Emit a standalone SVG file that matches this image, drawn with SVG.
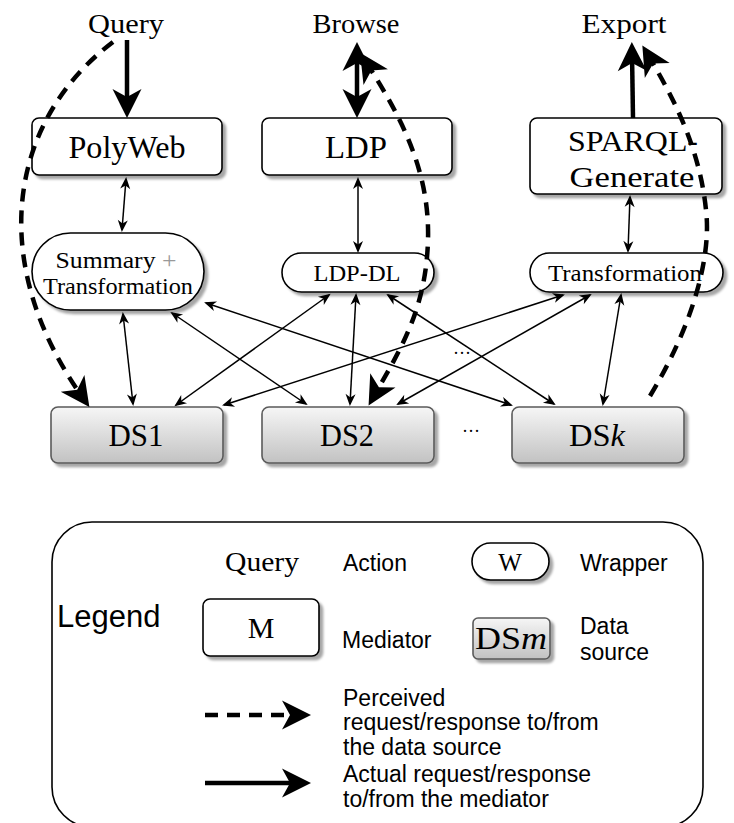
<svg xmlns="http://www.w3.org/2000/svg" width="734" height="823" viewBox="0 0 734 823">
<style>
.sr{font-family:"Liberation Serif","Times New Roman",serif;fill:#000;text-anchor:middle}
.ss{font-family:"Liberation Sans",Arial,sans-serif;fill:#000;font-size:23px}
.lg{font-size:31px}
.med{fill:#fff;stroke:#000;stroke-width:1.6;filter:url(#sh)}
.ds{fill:url(#dsg);stroke:#5a5a5a;stroke-width:1.6;filter:url(#sh)}
.thin{fill:none;stroke:#000;stroke-width:1.5;marker-start:url(#ah);marker-end:url(#ah)}
.thick{fill:none;stroke:#000;stroke-width:4.5}
.dash{fill:none;stroke:#000;stroke-width:4.5;stroke-dasharray:13 9}
</style>
<defs>
<linearGradient id="dsg" x1="0" y1="0" x2="0" y2="1">
<stop offset="0" stop-color="#f6f6f6"/>
<stop offset="1" stop-color="#c2c2c2"/>
</linearGradient>
<filter id="sh" x="-10%" y="-10%" width="130%" height="140%">
<feDropShadow dx="3.5" dy="3.5" stdDeviation="1.2" flood-color="#000" flood-opacity="0.35"/>
</filter>
<marker id="ah" markerUnits="userSpaceOnUse" viewBox="-12 -7 16 14" markerWidth="16" markerHeight="14" refX="0" refY="0" orient="auto-start-reverse">
<path d="M2,0 L-10,-5 L-6.5,0 L-10,5 z" fill="#000"/>
</marker>
<marker id="AH" markerUnits="userSpaceOnUse" viewBox="-22 -16 36 32" markerWidth="36" markerHeight="32" refX="0" refY="0" orient="auto-start-reverse">
<path d="M11,0 L-18,-14.5 L-10,0 L-18,14.5 z" fill="#000"/>
</marker>
</defs>

<g id="label-query"><text class="sr" x="126" y="33" font-size="28" textLength="76" lengthAdjust="spacingAndGlyphs">Query</text></g>
<g id="label-browse"><text class="sr" x="356" y="33" font-size="28" textLength="87" lengthAdjust="spacingAndGlyphs">Browse</text></g>
<g id="label-export"><text class="sr" x="624" y="33" font-size="28" textLength="85" lengthAdjust="spacingAndGlyphs">Export</text></g>

<g id="polyweb"><rect class="med" x="32" y="118" width="190" height="57" rx="7"/><text class="sr" x="127" y="158" font-size="32" textLength="117" lengthAdjust="spacingAndGlyphs">PolyWeb</text></g>
<g id="ldp"><rect class="med" x="262" y="118" width="190" height="57" rx="7"/><text class="sr" x="356" y="158" font-size="32" textLength="62" lengthAdjust="spacingAndGlyphs">LDP</text></g>
<g id="sparql-generate"><rect class="med" x="530" y="118" width="192" height="76" rx="7"/><text class="sr" x="633" y="151" font-size="30" textLength="130" lengthAdjust="spacingAndGlyphs">SPARQL-</text><text class="sr" x="632" y="187" font-size="30" textLength="125" lengthAdjust="spacingAndGlyphs">Generate</text></g>

<g id="summary-transformation"><rect class="med" x="32" y="233" width="172" height="77" rx="38.5"/><text class="sr" x="116" y="268" font-size="24" textLength="121" lengthAdjust="spacingAndGlyphs">Summary <tspan fill="#999">+</tspan></text><text class="sr" x="118" y="294" font-size="24" textLength="150" lengthAdjust="spacingAndGlyphs">Transformation</text></g>
<g id="ldp-dl"><rect class="med" x="282" y="253" width="152" height="39" rx="19.5"/><text class="sr" x="357" y="281" font-size="24" textLength="87" lengthAdjust="spacingAndGlyphs">LDP-DL</text></g>
<g id="transformation"><rect class="med" x="530" y="253" width="193" height="39" rx="19.5"/><text class="sr" x="625" y="281" font-size="24" textLength="154" lengthAdjust="spacingAndGlyphs">Transformation</text></g>

<g id="ds1"><rect class="ds" x="51" y="407" width="172" height="56" rx="7"/><text class="sr" x="136" y="446" font-size="32" textLength="55" lengthAdjust="spacingAndGlyphs">DS1</text></g>
<g id="ds2"><rect class="ds" x="262" y="407" width="172" height="56" rx="7"/><text class="sr" x="347" y="446" font-size="32" textLength="54" lengthAdjust="spacingAndGlyphs">DS2</text></g>
<g id="dsk"><rect class="ds" x="512" y="407" width="172" height="56" rx="7"/><text class="sr" x="597" y="446" font-size="32" textLength="56" lengthAdjust="spacingAndGlyphs">DS<tspan font-style="italic">k</tspan></text></g>
<g id="dots"><text class="sr" x="471" y="437" font-size="18">···</text><text class="sr" x="462" y="359" font-size="18">···</text></g>

<g id="connectors">
<path class="thin" d="M126,179 L122,230"/>
<path class="thin" d="M358,179 L358,251"/>
<path class="thin" d="M630,197 L628,251"/>
<path class="thin" d="M123,314 L133,404"/>
<path class="thin" d="M172,313 L306,404"/>
<path class="thin" d="M206,303 L511,405"/>
<path class="thin" d="M329,295 L176,405"/>
<path class="thin" d="M356,295 L350,404"/>
<path class="thin" d="M388,295 L554,404"/>
<path class="thin" d="M563,295 L224,405"/>
<path class="thin" d="M590,295 L398,404"/>
<path class="thin" d="M621,295 L603,404"/>
<path class="thick" d="M127,40 L127,107" marker-end="url(#AH)"/>
<path class="thick" d="M357,53 L357,107" marker-start="url(#AH)" marker-end="url(#AH)"/>
<path class="thick" d="M633,118 L632,53" marker-end="url(#AH)"/>
<path class="dash" d="M113,42 C10,120 -15,260 83,398" marker-end="url(#AH)"/>
<path class="dash" d="M366,62 C400,115 430,170 428,240 C426,310 400,350 374,396" marker-start="url(#AH)" marker-end="url(#AH)"/>
<path class="dash" d="M650,396 C690,330 712,260 706,210 C700,150 675,100 648,55" marker-end="url(#AH)"/>
</g>

<g id="legend">
<rect x="52" y="522" width="651" height="305" rx="40" fill="none" stroke="#000" stroke-width="1.6"/>
<text class="ss lg" x="57" y="627">Legend</text>
<text class="sr" x="262" y="571" font-size="28" textLength="74" lengthAdjust="spacingAndGlyphs">Query</text>
<text class="ss" x="343" y="571">Action</text>
<rect class="med" x="472" y="543" width="77" height="37" rx="18.5"/>
<text class="sr" x="510" y="571" font-size="25">W</text>
<text class="ss" x="580" y="571">Wrapper</text>
<rect class="med" x="203" y="599" width="116" height="57" rx="7"/>
<text class="sr" x="261" y="638" font-size="30">M</text>
<text class="ss" x="342" y="648">Mediator</text>
<rect class="ds" x="473" y="618" width="77" height="41" rx="5"/>
<text class="sr" x="511" y="649" font-size="32" textLength="72" lengthAdjust="spacingAndGlyphs">DS<tspan font-style="italic">m</tspan></text>
<text class="ss" x="580" y="634">Data</text>
<text class="ss" x="580" y="660">source</text>
<path class="dash" d="M205,715 L300,715" marker-end="url(#AH)"/>
<text class="ss" x="343" y="706">Perceived</text>
<text class="ss" x="343" y="730">request/response to/from</text>
<text class="ss" x="343" y="755">the data source</text>
<path class="thick" d="M205,783 L300,783" marker-end="url(#AH)"/>
<text class="ss" x="343" y="782">Actual request/response</text>
<text class="ss" x="343" y="807">to/from the mediator</text>
</g>
</svg>
